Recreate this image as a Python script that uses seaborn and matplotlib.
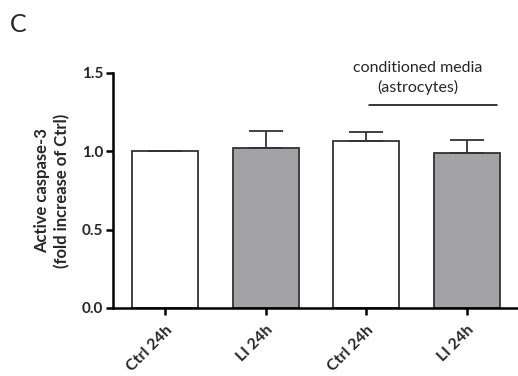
import numpy as np
import pandas as pd
import matplotlib
matplotlib.use("Agg")
import matplotlib.pyplot as plt
import seaborn as sns

sns.set_style("ticks")
plt.rcParams['font.family'] = ['Lato', 'DejaVu Sans']

# ─── data ───────────────────────────────────────────────────────────────────
groups = ['Ctrl 24h', 'LI 24h', 'Ctrl 24h', 'LI 24h']
means = [1.00, 1.02, 1.065, 0.99]
sem = [0.0, 0.11, 0.055, 0.08]
fills = ['white', '#a3a2a6', 'white', '#a3a2a6']

df = pd.DataFrame({'pos': ['g0', 'g1', 'g2', 'g3'], 'value': means})

fig = plt.figure(figsize=(5.18, 3.76), dpi=100)
ax = fig.add_axes([0.218, 0.181, 0.78, 0.625])

sns.barplot(data=df, x='pos', y='value', hue='pos', palette=fills,
            width=0.66, edgecolor='#333333', linewidth=1.3,
            legend=False, ax=ax)
ax.errorbar(range(len(means)), means, yerr=[np.zeros(len(sem)), sem],
            fmt='none', ecolor='#333333', elinewidth=1.3, capsize=12,
            capthick=1.3)

ax.set_xlim(-0.52, 3.5)
ax.set_ylim(0, 1.5)
ax.set_yticks([0.0, 0.5, 1.0, 1.5])
ax.set_yticklabels(['0.0', '0.5', '1.0', '1.5'], fontweight='bold', fontsize=11)
ax.set_xticks(range(len(groups)))
ax.set_xticklabels(groups, rotation=45, ha='right', rotation_mode='anchor',
                   fontweight='bold', fontsize=11.5)
ax.set_xlabel('')
ax.set_ylabel('Active caspase-3\n(fold increase of Ctrl)', fontweight='bold',
              fontsize=12, labelpad=8, linespacing=1.35)

for side in ['top', 'right']:
    ax.spines[side].set_visible(False)
for side in ['left', 'bottom']:
    ax.spines[side].set_linewidth(1.8)
    ax.spines[side].set_color('black')
ax.tick_params(axis='y', width=1.8, length=5, color='black', pad=2)
ax.tick_params(axis='x', width=1.8, length=5, color='black', pad=6)

# bracket for conditioned media
ax.plot([2.03, 3.3], [1.295, 1.295], color='black', lw=1.1, clip_on=False)
ax.text(2.51, 1.465, 'conditioned media\n(astrocytes)', ha='center', va='center',
        fontsize=11.5, linespacing=1.4)

fig.text(0.02, 0.935, 'C', fontsize=18, va='center')

plt.savefig('out.png', dpi=100)
